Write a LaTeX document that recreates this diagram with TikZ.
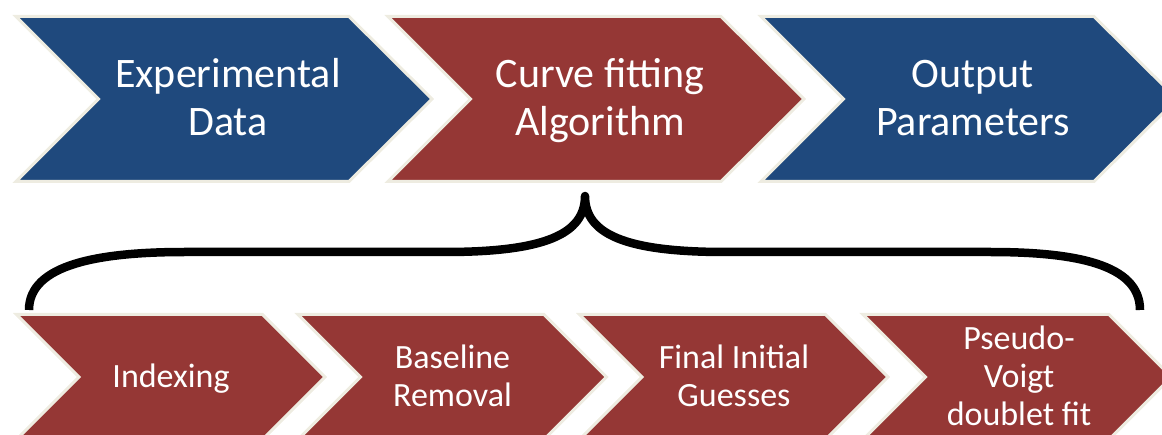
\documentclass[tikz,border=0pt]{standalone}
\usepackage{fontspec}
\setmainfont{Carlito}
\definecolor{cblue}{RGB}{31,73,125}
\definecolor{cred}{RGB}{149,55,53}
\definecolor{cborder}{RGB}{238,236,225}
\begin{document}
\begin{tikzpicture}[x=1pt,y=-1pt,
  chev/.style={draw=cborder,line width=3pt,line join=miter},
  toptext/.style={text=white,align=center,inner sep=0pt,font=\fontsize{42}{48}\selectfont},
  bottext/.style={text=white,align=center,inner sep=0pt,font=\fontsize{34}{38}\selectfont},
  brace/.style={line width=8.5pt,line cap=butt,line join=round,draw=black}]
\useasboundingbox (0,0) rectangle (1162,435);
\clip (0,0) rectangle (1162,435);
% top chevrons
\foreach \L/\col in {16/cblue,388/cred,761/cblue}{
  \path[chev,fill=\col] (\L,16.5) -- ++(333,0) -- ++(83,82.5) -- ++(-83,82.5) -- ++(-333,0) -- ++(82.5,-82.5) -- cycle;
}
\node[toptext] (t1) at (228,102) {\strut Experimental\\\strut Data};
\node[toptext] (t2) at (600,102) {\strut Curve fitting\\\strut Algorithm};
\node[toptext] (t3) at (973,102) {\strut Output\\\strut Parameters};
% bottom chevrons
\foreach \L in {16.5,298,579.5,863}{
  \path[chev,fill=cred] (\L,314.5) -- ++(246,0) -- ++(62.5,62.5) -- ++(-62.5,62.5) -- ++(-246,0) -- ++(62.5,-62.5) -- cycle;
}
\node[bottext] (b1) at (171,379.5) {\strut Indexing};
\node[bottext] (b2) at (452.5,379.5) {\strut Baseline\\\strut Removal};
\node[bottext] (b3) at (734,379.5) {\strut Final Initial\\\strut Guesses};
\node[bottext] (b4) at (1019,379.5) {\strut Pseudo-\\\strut Voigt\\\strut doublet fit};
% brace
\coordinate (bl) at (29,310);
\coordinate (cusp) at (585,196);
\coordinate (br) at (1140,310);
\draw[brace] (bl) .. controls (29,264) and (100,252) .. (185,252) -- (445,252)
  .. controls (545,252) and (585,234) .. (cusp)
  .. controls (585,234) and (625,252) .. (725,252) -- (990,252)
  .. controls (1075,252) and (1140,264) .. (br);
\end{tikzpicture}
\end{document}
